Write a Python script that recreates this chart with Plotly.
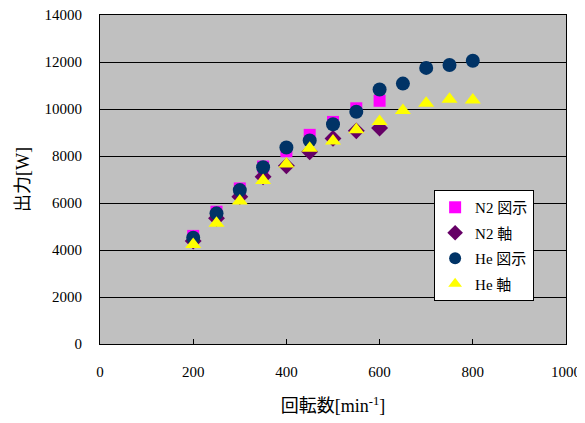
import plotly.graph_objects as go

rpm_n2 = [200, 250, 300, 350, 400, 450, 500, 550, 600]
rpm_he = [200, 250, 300, 350, 400, 450, 500, 550, 600, 650, 700, 750, 800]

n2_zushi = [4600, 5630, 6620, 7550, 8200, 8900, 9450, 10030, 10350]
n2_jiku = [4380, 5350, 6270, 7120, 7580, 8180, 8750, 9070, 9190]
he_zushi = [4520, 5560, 6550, 7520, 8360, 8660, 9350, 9880, 10830, 11080, 11750, 11870, 12050]
he_jiku = [4230, 5140, 6080, 6960, 7660, 8330, 8640, 9120, 9470, 9940, 10250, 10420, 10380]

names = ["N2 図示", "N2 軸", "He 図示", "He 軸"]
font_fam = "Times New Roman, Liberation Serif, Noto Sans CJK JP, serif"

fig = go.Figure()
series = [
    (rpm_n2, n2_zushi, names[0], "square", "#FF00FF", 12),
    (rpm_n2, n2_jiku, names[1], "diamond", "#660066", 13),
    (rpm_he, he_zushi, names[2], "circle", "#003366", 14),
    (rpm_he, he_jiku, names[3], "triangle-up", "#FFFF00", 14),
]
for i, (x, y, nm, sym, col, sz) in enumerate(series):
    fig.add_trace(go.Scatter(
        x=x, y=y, name=nm, mode="markers", legendgroup=str(i),
        marker=dict(symbol=sym, color=col, size=sz, line=dict(width=0)),
    ))

fig.update_layout(
    width=585, height=423,
    margin=dict(l=92, r=27, t=7, b=87, autoexpand=False),
    paper_bgcolor="white", plot_bgcolor="#C0C0C0",
    font=dict(family=font_fam, size=15, color="black"),
    showlegend=True,
    legend=dict(
        x=0.717, y=0.468, xanchor="left", yanchor="top",
        bgcolor="white", bordercolor="black", borderwidth=1,
        font=dict(family=font_fam, size=15), tracegroupgap=3,
        itemsizing="constant",
    ),
    xaxis=dict(
        range=[0, 1000], dtick=200, showgrid=False, zeroline=False,
        showline=True, linecolor="black", linewidth=1, mirror=True,
        ticks="inside", ticklen=5, tickcolor="black", tickformat="d",
        ticklabelstandoff=14, ticklabeloverflow="allow",
        title=dict(text="回転数[min<sup>-1</sup>]", standoff=20),
    ),
    yaxis=dict(
        range=[0, 14000], dtick=2000, showgrid=True, gridcolor="black", gridwidth=1,
        zeroline=False, showline=True, linecolor="black", linewidth=1, mirror=True,
        ticks="", tickformat="d", ticklabelstandoff=14, ticklabeloverflow="allow",
        title=dict(text="出力[W]", standoff=10),
    ),
)

fig.write_html("out.html")
